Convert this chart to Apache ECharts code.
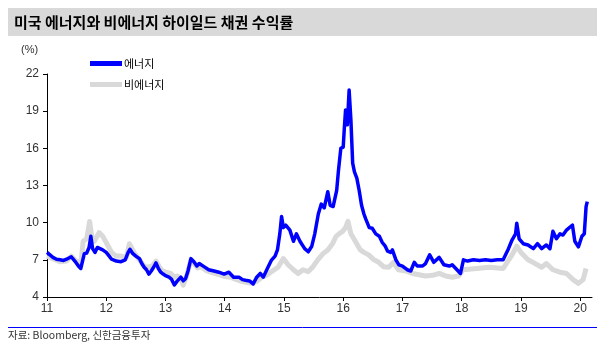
<!DOCTYPE html>
<html>
<head>
<meta charset="utf-8">
<script src="https://cdn.jsdelivr.net/npm/echarts@6/dist/echarts.min.js"></script>
<style>
  html, body { margin: 0; padding: 0; background: #fff; }
  #chart { width: 605px; height: 348px; }
</style>
</head>
<body>
<div id="chart"></div>
<script>
// US high-yield bond yields (%), energy vs. non-energy issuers; x = decimal year
const energyDates = [
  2011.00, 2011.05, 2011.10, 2011.16, 2011.22, 2011.28, 2011.33, 2011.41, 2011.47, 2011.53,
  2011.57, 2011.60, 2011.63, 2011.67, 2011.71, 2011.74, 2011.77, 2011.81, 2011.85, 2011.88,
  2011.94, 2012.00, 2012.05, 2012.09, 2012.17, 2012.25, 2012.32, 2012.37, 2012.40, 2012.45,
  2012.50, 2012.56, 2012.60, 2012.64, 2012.68, 2012.72, 2012.76, 2012.80, 2012.84, 2012.88,
  2012.92, 2012.96, 2013.01, 2013.06, 2013.10, 2013.15, 2013.20, 2013.26, 2013.30, 2013.34,
  2013.38, 2013.43, 2013.48, 2013.53, 2013.57, 2013.65, 2013.73, 2013.82, 2013.90, 2013.99,
  2014.07, 2014.11, 2014.15, 2014.24, 2014.30, 2014.35, 2014.42, 2014.48, 2014.54, 2014.60,
  2014.65, 2014.72, 2014.79, 2014.85, 2014.89, 2014.93, 2014.96, 2014.99, 2015.03, 2015.10,
  2015.16, 2015.21, 2015.27, 2015.35, 2015.41, 2015.47, 2015.52, 2015.58, 2015.63, 2015.68,
  2015.74, 2015.78, 2015.83, 2015.89, 2015.92, 2015.96, 2016.00, 2016.02, 2016.04, 2016.07,
  2016.10, 2016.13, 2016.16, 2016.19, 2016.23, 2016.27, 2016.31, 2016.35, 2016.38, 2016.44,
  2016.49, 2016.55, 2016.61, 2016.66, 2016.71, 2016.75, 2016.80, 2016.83, 2016.89, 2016.94,
  2017.00, 2017.08, 2017.14, 2017.20, 2017.25, 2017.34, 2017.39, 2017.46, 2017.53, 2017.62,
  2017.70, 2017.79, 2017.84, 2017.90, 2017.98, 2018.03, 2018.10, 2018.20, 2018.30, 2018.40,
  2018.50, 2018.60, 2018.70, 2018.79, 2018.85, 2018.91, 2018.93, 2018.97, 2019.04, 2019.12,
  2019.21, 2019.28, 2019.35, 2019.43, 2019.49, 2019.54, 2019.60, 2019.66, 2019.71, 2019.77,
  2019.83, 2019.87, 2019.91, 2019.97, 2020.03, 2020.07, 2020.10, 2020.12
];
const energyYield = [
  7.6, 7.4, 7.2, 7.05, 7.0, 6.95, 7.05, 7.25, 6.9, 6.5,
  6.3, 6.9, 7.5, 7.55, 8.0, 8.9, 7.9, 7.6, 8.0, 8.1,
  7.8, 7.6, 7.3, 7.05, 6.9, 6.85, 7.0, 7.6, 7.85, 7.5,
  7.3, 7.1, 6.7, 6.4, 6.2, 5.85, 6.1, 6.4, 6.75, 6.3,
  6.0, 5.85, 5.7, 5.6, 5.45, 4.97, 5.3, 5.6, 5.3, 5.5,
  6.1, 7.1, 6.85, 6.5, 6.7, 6.45, 6.2, 6.1, 6.0, 5.85,
  6.0, 5.8, 5.6, 5.6, 5.4, 5.35, 5.3, 5.05, 5.6, 5.9,
  5.6, 6.3, 6.98, 7.3, 7.8, 9.1, 10.5, 9.6, 9.8, 9.4,
  8.5, 9.1, 8.5, 7.9, 7.65, 8.1, 9.1, 10.7, 11.5, 11.2,
  12.5, 11.4, 11.3, 12.6, 14.2, 16.0, 16.1, 17.7, 19.1, 17.9,
  20.7, 18.3, 14.8, 14.1, 13.6, 12.6, 11.4, 10.7, 10.3, 9.6,
  9.55, 9.1, 8.9, 8.4, 8.1, 7.7, 7.6, 7.8, 7.0, 6.6,
  6.5, 6.2, 6.1, 6.8, 6.5, 6.5, 6.7, 7.4, 6.8, 7.2,
  6.6, 6.5, 6.6, 6.3, 5.9, 7.0, 6.9, 7.0, 6.95, 7.0,
  6.95, 7.0, 7.0, 7.9, 8.6, 9.1, 9.95, 8.7, 8.3, 8.2,
  7.9, 8.3, 7.9, 8.2, 7.9, 9.3, 8.7, 9.1, 9.0, 9.4,
  9.65, 9.8, 8.5, 8.05, 8.9, 9.1, 11.3, 11.7
];

const nonEnergyDates = [
  2011.00, 2011.10, 2011.22, 2011.33, 2011.41, 2011.47, 2011.53, 2011.58, 2011.61, 2011.67,
  2011.72, 2011.76, 2011.80, 2011.88, 2011.94, 2012.00, 2012.09, 2012.17, 2012.25, 2012.34,
  2012.39, 2012.48, 2012.56, 2012.64, 2012.70, 2012.78, 2012.84, 2012.90, 2012.95, 2013.01,
  2013.09, 2013.15, 2013.20, 2013.26, 2013.30, 2013.37, 2013.43, 2013.48, 2013.54, 2013.60,
  2013.70, 2013.80, 2013.90, 2014.00, 2014.10, 2014.20, 2014.30, 2014.40, 2014.46, 2014.55,
  2014.63, 2014.72, 2014.79, 2014.90, 2014.99, 2015.07, 2015.16, 2015.24, 2015.32, 2015.41,
  2015.49, 2015.57, 2015.66, 2015.74, 2015.82, 2015.88, 2015.93, 2015.99, 2016.04, 2016.08,
  2016.13, 2016.18, 2016.24, 2016.29, 2016.35, 2016.43, 2016.52, 2016.60, 2016.68, 2016.77,
  2016.85, 2016.93, 2017.06, 2017.17, 2017.28, 2017.39, 2017.51, 2017.62, 2017.73, 2017.84,
  2017.95, 2018.02, 2018.25, 2018.47, 2018.70, 2018.85, 2018.93, 2019.00, 2019.12, 2019.24,
  2019.35, 2019.43, 2019.54, 2019.66, 2019.77, 2019.88, 2019.97, 2020.05, 2020.10
];
const nonEnergyYield = [
  7.3, 7.1, 6.85, 6.9, 7.3, 7.0, 6.75, 7.0, 8.5, 8.7,
  10.1, 8.7, 8.5, 9.2, 8.9, 8.4, 7.6, 7.3, 7.3, 7.2,
  8.3, 7.5, 7.0, 6.5, 6.4, 6.5, 6.9, 6.4, 6.1, 6.0,
  5.9, 5.6, 5.7, 5.5, 4.95, 5.9, 7.0, 6.7, 6.35, 6.45,
  6.1, 5.95, 5.8, 5.65, 5.6, 5.4, 5.25, 5.15, 5.1, 5.3,
  5.6, 5.8, 6.05, 6.4, 7.1, 6.6, 6.2, 5.9, 6.2, 6.05,
  6.45, 7.0, 7.5, 7.8, 8.3, 8.9, 9.1, 9.3, 9.6, 10.1,
  9.1, 8.7, 8.2, 7.8, 7.6, 7.4, 7.0, 6.8, 6.45, 6.4,
  6.8, 6.2, 6.1, 5.9, 5.8, 5.7, 5.75, 5.9, 5.7, 5.6,
  5.7, 6.2, 6.3, 6.4, 6.3, 7.4, 8.1, 7.6, 7.0, 6.7,
  6.4, 6.7, 6.2, 6.0, 5.9, 5.4, 5.1, 5.4, 6.3
];

// Axis ticks and labels
const yearTicks = [2011, 2012, 2013, 2014, 2015, 2016, 2017, 2018, 2019, 2020];
const yearLabels = ['11', '12', '13', '14', '15', '16', '17', '18', '19', '20'];
const yTicks = [4, 7, 10, 13, 16, 19, 22];

const seriesNames = ['에너지', '비에너지'];
const titleText = '미국 에너지와 비에너지 하이일드 채권 수익률';
const unitText = '(%)';
const sourceText = '자료: Bloomberg, 신한금융투자';

const zip = (xs, ys) => xs.map((x, i) => [x, ys[i]]);

const FONT = '"Noto Sans CJK KR", "Noto Sans", sans-serif';
const chart = echarts.init(document.getElementById('chart'), null, { renderer: 'canvas' });

chart.setOption({
  backgroundColor: '#ffffff',
  animation: false,
  textStyle: { fontFamily: FONT },
  grid: { left: 47, right: 13, top: 74, bottom: 51, containLabel: false },
  legend: {
    data: seriesNames,
    orient: 'vertical',
    left: 85,
    top: 53,
    itemWidth: 32,
    itemHeight: 5,
    itemGap: 10,
    icon: 'rect',
    textStyle: { fontSize: 11, color: '#000', fontFamily: FONT, padding: [0, 0, 0, -3] }
  },
  xAxis: {
    type: 'value',
    min: 2011,
    max: 2020.2,
    interval: 1,
    splitLine: { show: false },
    axisLine: { lineStyle: { color: '#000', width: 1 } },
    axisTick: { length: 4, lineStyle: { color: '#000' }, customValues: yearTicks },
    axisLabel: {
      customValues: yearTicks,
      formatter: v => yearLabels[yearTicks.indexOf(Math.round(v))] || '',
      color: '#333', fontSize: 12, margin: 6, fontFamily: '"Liberation Sans", Arial, sans-serif'
    }
  },
  yAxis: {
    type: 'value',
    min: yTicks[0],
    max: yTicks[yTicks.length - 1],
    interval: 3,
    splitLine: { show: false },
    axisLine: { show: true, lineStyle: { color: '#000', width: 1 } },
    axisTick: { show: true, length: 4, lineStyle: { color: '#000' } },
    axisLabel: { color: '#333', fontSize: 12, margin: 8, fontFamily: '"Liberation Sans", Arial, sans-serif' }
  },
  series: [
    {
      name: seriesNames[1],
      type: 'line',
      data: zip(nonEnergyDates, nonEnergyYield),
      showSymbol: false,
      color: '#d9d9d9',
      lineStyle: { color: '#d9d9d9', width: 5, join: 'round' },
      z: 2
    },
    {
      name: seriesNames[0],
      type: 'line',
      data: zip(energyDates, energyYield),
      showSymbol: false,
      color: '#0000ff',
      lineStyle: { color: '#0000ff', width: 3.5, join: 'round' },
      z: 3
    }
  ],
  graphic: [
    { type: 'rect', shape: { x: 8, y: 8, width: 589, height: 28 }, style: { fill: '#d9d9d9' }, silent: true },
    { type: 'text', x: 14, y: 22, style: { text: titleText, fill: '#000', font: 'bold 15px ' + FONT, textVerticalAlign: 'middle' } },
    { type: 'text', x: 21, y: 50, style: { text: unitText, fill: '#333', font: '11px "Liberation Sans", Arial, sans-serif', textVerticalAlign: 'middle' } },
    { type: 'line', shape: { x1: 8, y1: 327.5, x2: 597, y2: 327.5 }, style: { stroke: '#0000ff', lineWidth: 1 } },
    { type: 'text', x: 8, y: 335, style: { text: sourceText, fill: '#333', font: '10.5px ' + FONT, textVerticalAlign: 'middle' } }
  ]
});
</script>
</body>
</html>
